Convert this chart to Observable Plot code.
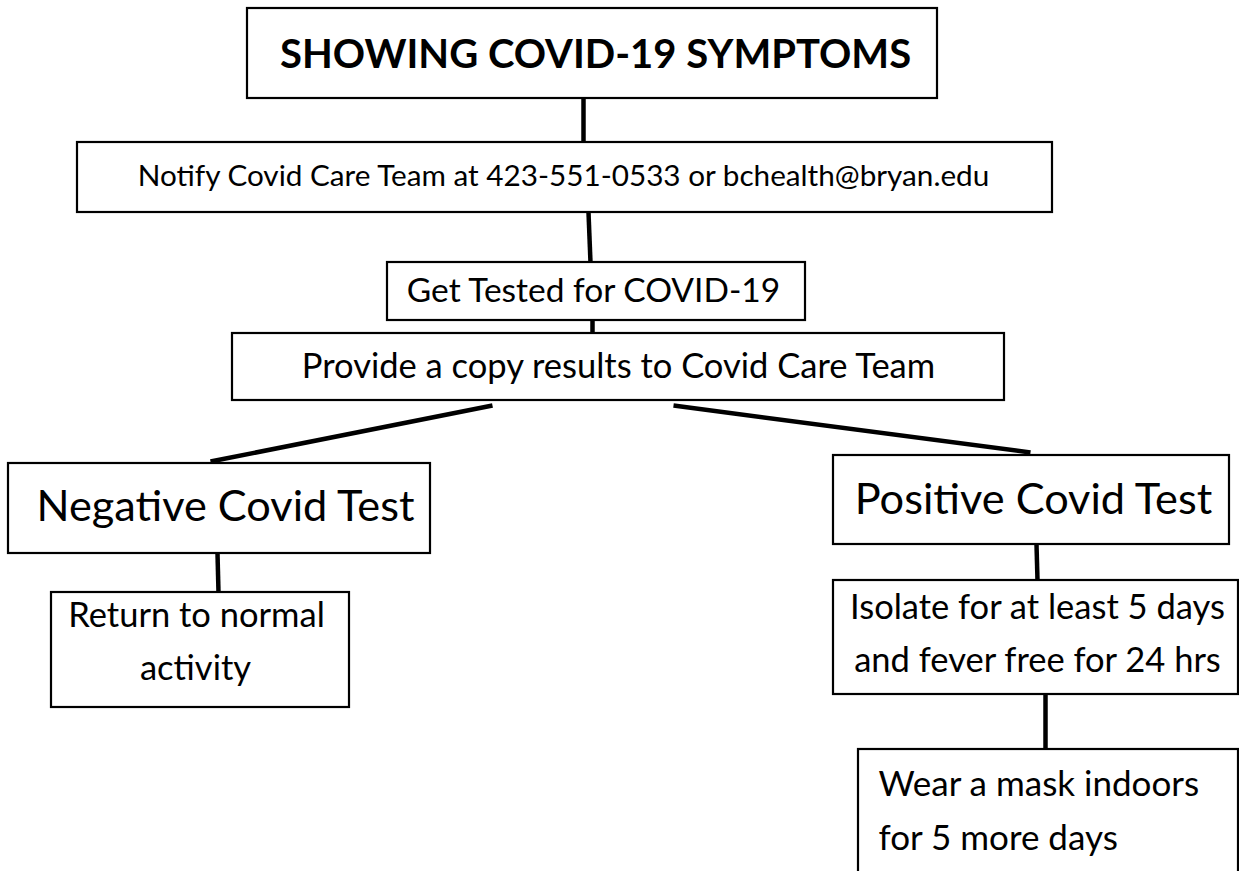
<!DOCTYPE html>
<html>
<head>
<meta charset="utf-8">
<script src="https://cdn.jsdelivr.net/npm/d3@7"></script>
<script src="https://cdn.jsdelivr.net/npm/@observablehq/plot@0.6"></script>
<style>
  html, body { margin: 0; padding: 0; background: #fff; }
  #chart svg { display: block; }
</style>
</head>
<body>
<div id="chart"></div>
<script>
// Flowchart nodes (boxes) in page units
const boxes = [
  {id: "title",    x1: 247, x2: 937,  y1: 8,   y2: 98},
  {id: "notify",   x1: 77,  x2: 1052, y1: 142, y2: 212},
  {id: "test",     x1: 387, x2: 805,  y1: 262, y2: 320},
  {id: "provide",  x1: 232, x2: 1004, y1: 333, y2: 400},
  {id: "negative", x1: 8,   x2: 430,  y1: 463, y2: 553},
  {id: "return",   x1: 51,  x2: 349,  y1: 592, y2: 707},
  {id: "positive", x1: 833, x2: 1229, y1: 455, y2: 544},
  {id: "isolate",  x1: 833, x2: 1238, y1: 580, y2: 694},
  {id: "mask",     x1: 858, x2: 1238, y1: 749, y2: 880}
];

// Connectors between nodes
const edges = [
  {x1: 583,  y1: 98,  x2: 583,  y2: 142},
  {x1: 588,  y1: 212, x2: 590,  y2: 262},
  {x1: 592,  y1: 320, x2: 592,  y2: 333},
  {x1: 492,  y1: 405, x2: 210,  y2: 461},
  {x1: 673,  y1: 405, x2: 1030, y2: 452},
  {x1: 217,  y1: 553, x2: 218,  y2: 592},
  {x1: 1036, y1: 544, x2: 1037, y2: 580},
  {x1: 1045, y1: 694, x2: 1045, y2: 749}
];

// Text labels
const titleLabels = [{text: "SHOWING COVID-19 SYMPTOMS", x: 595, y: 55}];
const notifyLabels = [
  {text: "Notify Covid Care Team at 423-551-0533 or bchealth@bryan.edu", x: 563, y: 176}
];
const testLabels = [
  {text: "Get Tested for COVID-19", x: 593, y: 291}
];
const provideLabels = [
  {text: "Provide a copy results to Covid Care Team", x: 618, y: 366}
];
const resultLabels = [
  {text: "Negative Covid Test", x: 225, y: 507},
  {text: "Positive Covid Test", x: 1033, y: 500}
];
const actionLabels = [
  {text: "Return to normal", x: 196, y: 615},
  {text: "activity", x: 195, y: 668},
  {text: "Isolate for at least 5 days", x: 1037, y: 607},
  {text: "and fever free for 24 hrs", x: 1037, y: 660}
];
const maskLabels = [
  {text: "Wear a mask indoors", x: 878, y: 784},
  {text: "for 5 more days", x: 878, y: 838}
];

const font = "Lato, 'Open Sans', sans-serif";

const chart = Plot.plot({
  width: 1239,
  height: 871,
  margin: 0,
  x: {domain: [0, 1239], range: [0, 1239], axis: null},
  y: {domain: [0, 871], range: [0, 871], axis: null},
  style: {background: "#fff", fontFamily: font},
  marks: [
    Plot.rect(boxes, {x1: "x1", x2: "x2", y1: "y1", y2: "y2", fill: "#fff", stroke: "#000", strokeWidth: 2.2}),
    Plot.link(edges, {x1: "x1", y1: "y1", x2: "x2", y2: "y2", stroke: "#000", strokeWidth: 4.5}),
    Plot.text(titleLabels, {x: "x", y: "y", text: "text", fontSize: 40, fontWeight: "bold", fill: "#000", fontFamily: font}),
    Plot.text(notifyLabels, {x: "x", y: "y", text: "text", fontSize: 29.7, fill: "#000", fontFamily: font}),
    Plot.text(testLabels, {x: "x", y: "y", text: "text", fontSize: 33.5, fill: "#000", fontFamily: font}),
    Plot.text(provideLabels, {x: "x", y: "y", text: "text", fontSize: 34.5, fill: "#000", fontFamily: font}),
    Plot.text(resultLabels, {x: "x", y: "y", text: "text", fontSize: 43.3, fill: "#000", fontFamily: font}),
    Plot.text(actionLabels, {x: "x", y: "y", text: "text", fontSize: 34.5, fill: "#000", fontFamily: font}),
    Plot.text(maskLabels, {x: "x", y: "y", text: "text", fontSize: 35, textAnchor: "start", fill: "#000", fontFamily: font})
  ]
});
document.getElementById("chart").appendChild(chart);
</script>
</body>
</html>
